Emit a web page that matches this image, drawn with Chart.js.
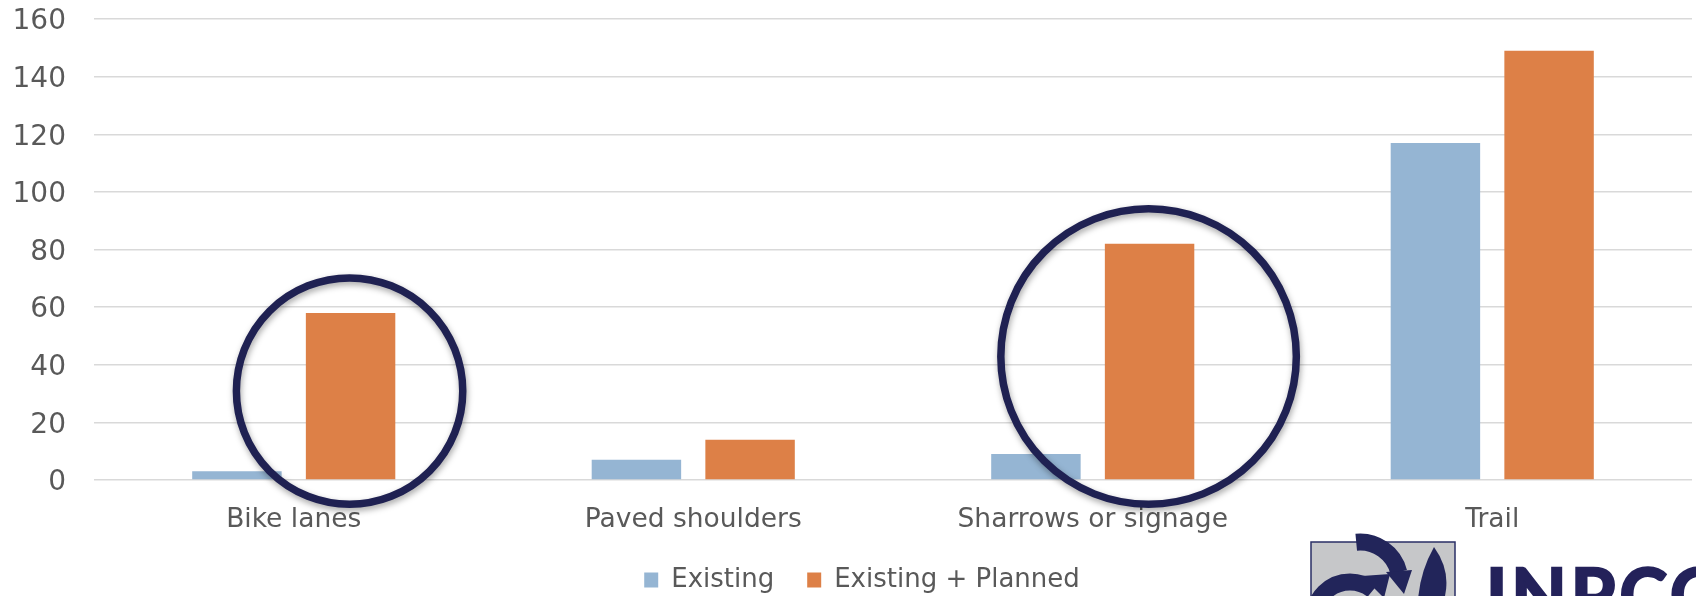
<!DOCTYPE html>
<html>
<head>
<meta charset="utf-8">
<script src="https://cdn.jsdelivr.net/npm/chart.js@4"></script>
<style>
  html, body { margin: 0; padding: 0; background: #fff; }
  #wrap { width: 1696px; height: 596px; }
</style>
</head>
<body>
<div id="wrap"><canvas id="myChart" width="1696" height="596"></canvas></div>
<script>
// chart data
const categories = ['Bike lanes', 'Paved shoulders', 'Sharrows or signage', 'Trail'];
const existing = [3, 7, 9, 117];
const existingPlanned = [58, 14, 82, 149];
const seriesNames = ['Existing', 'Existing + Planned'];
const yMax = 160;
const yStep = 20;

// categories circled on the slide (around the "Existing + Planned" bar)
const highlighted = ['Bike lanes', 'Sharrows or signage'];

const highlightCircles = {
    id: 'highlightCircles',
    afterDraw(chart) {
        const meta = chart.getDatasetMeta(1);
        const ctx = chart.ctx;
        highlighted.forEach(cat => {
            const bar = meta.data[categories.indexOf(cat)];
            const half = (bar.base - bar.y) / 2;
            const r = half + 30;
            ctx.save();
            ctx.shadowColor = 'rgba(0,0,0,0.35)';
            ctx.shadowBlur = 6;
            ctx.shadowOffsetX = 1;
            ctx.shadowOffsetY = 3;
            ctx.strokeStyle = '#1f2152';
            ctx.lineWidth = 7.5;
            ctx.beginPath();
            ctx.ellipse(bar.x - 1, bar.y + half - 5, r, r, 0, 0, Math.PI * 2);
            ctx.stroke();
            ctx.restore();
        });
    }
};

// rough copy of the logo cut off in the lower right corner
const logo = {
    id: 'logo',
    afterDraw(chart) {
        const ctx = chart.ctx;
        ctx.save();
        ctx.fillStyle = '#c6c7c9';
        ctx.fillRect(1311, 542, 144, 60);
        ctx.strokeStyle = '#2a2f66';
        ctx.lineWidth = 1.5;
        ctx.strokeRect(1311, 542, 144, 60);

        ctx.strokeStyle = '#22255a';
        ctx.fillStyle = '#22255a';
        ctx.lineWidth = 17;
        // upper arrow
        ctx.beginPath();
        ctx.arc(1360, 582, 40, -Math.PI * 0.53, -Math.PI * 0.08);
        ctx.stroke();
        ctx.beginPath();
        ctx.moveTo(1386, 572);
        ctx.lineTo(1412, 570);
        ctx.lineTo(1404, 594);
        ctx.fill();
        // lower arrow
        ctx.beginPath();
        ctx.arc(1350, 618, 36, Math.PI * 1.0, -Math.PI * 0.28);
        ctx.stroke();
        ctx.beginPath();
        ctx.moveTo(1362, 576);
        ctx.lineTo(1384, 598);
        ctx.lineTo(1390, 574);
        ctx.fill();
        // right leaf
        ctx.beginPath();
        ctx.moveTo(1434, 547);
        ctx.quadraticCurveTo(1452, 572, 1444, 600);
        ctx.lineTo(1418, 600);
        ctx.quadraticCurveTo(1420, 572, 1434, 547);
        ctx.fill();

        ctx.fillStyle = '#24225a';
        ctx.strokeStyle = '#24225a';
        ctx.lineWidth = 2.5;
        ctx.font = 'bold 72px Lato';
        ctx.letterSpacing = '4px';
        ctx.textBaseline = 'alphabetic';
        ctx.fillText('INPCO', 1486, 621);
        ctx.strokeText('INPCO', 1486, 621);
        ctx.restore();
    }
};

const shiftLegend = {
    id: 'shiftLegend',
    afterLayout(chart) {
        chart.legend.left += 16;
        chart.legend.right += 16;
    }
};

const ctx = document.getElementById('myChart').getContext('2d');
const chart = new Chart(ctx, {
    type: 'bar',
    data: {
        labels: categories,
        datasets: [{
            label: seriesNames[0],
            data: existing,
            backgroundColor: '#95b5d3'
        }, {
            label: seriesNames[1],
            data: existingPlanned,
            backgroundColor: '#dd8047'
        }]
    },
    options: {
        responsive: false,
        animation: false,
        layout: { padding: { top: 19, right: 4, left: 0, bottom: -7 } },
        datasets: {
            bar: { categoryPercentage: 0.569, barPercentage: 0.787 }
        },
        plugins: {
            tooltip: { enabled: false },
            legend: {
                position: 'bottom',
                labels: {
                    boxWidth: 14,
                    boxHeight: 15,
                    padding: 33,
                    color: '#595959',
                    font: { family: 'DejaVu Sans, sans-serif', size: 26 }
                }
            }
        },
        scales: {
            x: {
                grid: { display: false },
                border: { display: false },
                ticks: {
                    color: '#595959',
                    padding: 16,
                    font: { family: 'DejaVu Sans, sans-serif', size: 26.5 }
                },
                afterFit(scale) { scale.height = 54; }
            },
            y: {
                min: 0,
                max: yMax,
                ticks: {
                    stepSize: yStep,
                    color: '#595959',
                    padding: 28,
                    labelOffset: 3,
                    font: { family: 'DejaVu Sans, sans-serif', size: 28 }
                },
                grid: { color: '#d9d9d9', lineWidth: 1.5, drawTicks: false },
                border: { display: false },
                afterFit(scale) {
                    scale.width = 94;
                    scale.paddingTop = 0;
                    scale.paddingBottom = 0;
                }
            }
        }
    },
    plugins: [shiftLegend, highlightCircles, logo]
});
</script>
</body>
</html>
